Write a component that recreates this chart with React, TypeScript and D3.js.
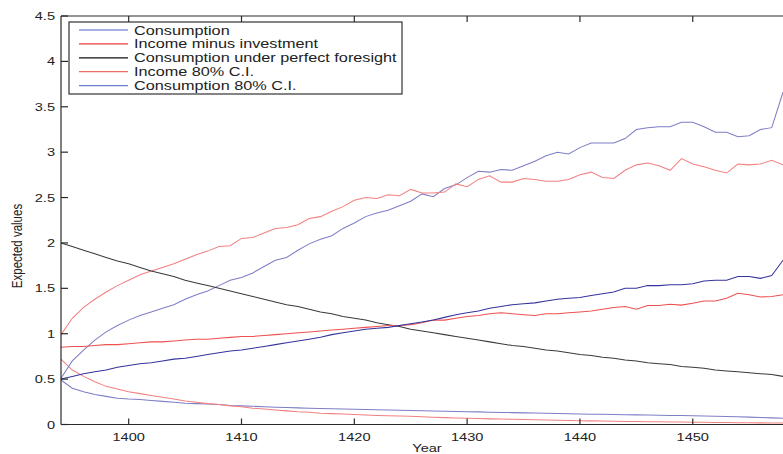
import * as d3 from 'd3'

const W = 783
const H = 454
const M = { top: 16, right: 0, bottom: 29.5, left: 61 }

const FONT = '"Liberation Sans", Arial, Helvetica, sans-serif'

// years on the x axis, one point per year
const years = d3.range(1394, 1459)

const xTicks = [1400, 1410, 1420, 1430, 1440, 1450]
const yTicks = [0, 0.5, 1, 1.5, 2, 2.5, 3, 3.5, 4, 4.5]

const consumption = [
  0.50, 0.53, 0.56, 0.58, 0.60, 0.63, 0.65, 0.67, 0.68, 0.70,
  0.72, 0.73, 0.75, 0.77, 0.79, 0.81, 0.82, 0.84, 0.86, 0.88,
  0.90, 0.92, 0.94, 0.96, 0.99, 1.01, 1.03, 1.05, 1.06, 1.07,
  1.09, 1.11, 1.13, 1.15, 1.18, 1.21, 1.23, 1.25, 1.28, 1.30,
  1.32, 1.33, 1.34, 1.36, 1.38, 1.39, 1.40, 1.42, 1.44, 1.46,
  1.50, 1.50, 1.53, 1.53, 1.54, 1.54, 1.55, 1.58, 1.59, 1.59,
  1.63, 1.63, 1.61, 1.64, 1.81
]

const incomeMinusInvestment = [
  0.85, 0.86, 0.86, 0.87, 0.88, 0.88, 0.89, 0.90, 0.91, 0.91,
  0.92, 0.93, 0.94, 0.94, 0.95, 0.96, 0.97, 0.97, 0.98, 0.99,
  1.00, 1.01, 1.02, 1.03, 1.04, 1.05, 1.06, 1.07, 1.08, 1.09,
  1.09, 1.10, 1.12, 1.15, 1.15, 1.17, 1.19, 1.20, 1.22, 1.23,
  1.22, 1.21, 1.20, 1.22, 1.22, 1.23, 1.24, 1.25, 1.27, 1.29,
  1.30, 1.27, 1.31, 1.31, 1.325, 1.315, 1.335, 1.36, 1.36, 1.39,
  1.445, 1.43, 1.405, 1.41, 1.43
]

const perfectForesight = [
  2.00, 1.96, 1.92, 1.88, 1.84, 1.80, 1.77, 1.73, 1.69, 1.66,
  1.63, 1.59, 1.56, 1.53, 1.50, 1.47, 1.44, 1.41, 1.38, 1.35,
  1.32, 1.30, 1.27, 1.24, 1.22, 1.19, 1.17, 1.15, 1.12, 1.10,
  1.08, 1.05, 1.03, 1.01, 0.99, 0.97, 0.95, 0.93, 0.91, 0.89,
  0.87, 0.86, 0.84, 0.82, 0.81, 0.79, 0.77, 0.76, 0.74, 0.73,
  0.71, 0.70, 0.68, 0.67, 0.66, 0.64, 0.63, 0.62, 0.60, 0.59,
  0.58, 0.57, 0.56, 0.55, 0.53
]

const incomeUpper = [
  0.99, 1.17, 1.29, 1.38, 1.46, 1.53, 1.59, 1.65, 1.69, 1.73,
  1.77, 1.82, 1.87, 1.91, 1.96, 1.97, 2.05, 2.06, 2.11, 2.16,
  2.17, 2.20, 2.27, 2.29, 2.35, 2.40, 2.47, 2.50, 2.49, 2.53,
  2.52, 2.59, 2.55, 2.55, 2.56, 2.65, 2.62, 2.70, 2.74, 2.67,
  2.67, 2.71, 2.70, 2.68, 2.68, 2.70, 2.75, 2.78, 2.72, 2.71,
  2.80, 2.86, 2.88, 2.85, 2.80, 2.93, 2.87, 2.84, 2.80, 2.77,
  2.87, 2.86, 2.87, 2.91, 2.86
]

const incomeLower = [
  0.72, 0.60, 0.53, 0.47, 0.42, 0.39, 0.36, 0.34, 0.32, 0.30,
  0.28, 0.26, 0.245, 0.23, 0.22, 0.205, 0.195, 0.18, 0.17, 0.16,
  0.15, 0.14, 0.135, 0.125, 0.12, 0.115, 0.11, 0.105, 0.10, 0.097,
  0.094, 0.09, 0.086, 0.08, 0.076, 0.072, 0.068, 0.065, 0.062, 0.06,
  0.057, 0.055, 0.052, 0.05, 0.047, 0.045, 0.042, 0.04, 0.038, 0.036,
  0.034, 0.033, 0.031, 0.03, 0.028, 0.027, 0.025, 0.024, 0.022, 0.021,
  0.02, 0.019, 0.018, 0.017, 0.016
]

const consumptionUpper = [
  0.51, 0.70, 0.82, 0.93, 1.02, 1.09, 1.15, 1.20, 1.24, 1.28,
  1.32, 1.38, 1.43, 1.47, 1.53, 1.59, 1.62, 1.67, 1.74, 1.81,
  1.84, 1.92, 1.99, 2.04, 2.08, 2.16, 2.22, 2.29, 2.33, 2.36,
  2.41, 2.46, 2.54, 2.51, 2.60, 2.64, 2.72, 2.79, 2.78, 2.81,
  2.80, 2.85, 2.90, 2.96, 3.00, 2.98, 3.05, 3.10, 3.10, 3.10,
  3.15, 3.25, 3.27, 3.28, 3.28, 3.33, 3.33, 3.28, 3.22, 3.22,
  3.17, 3.18, 3.25, 3.27, 3.66
]

const consumptionLower = [
  0.49, 0.40, 0.36, 0.33, 0.31, 0.29, 0.28, 0.275, 0.265, 0.255,
  0.245, 0.235, 0.23, 0.225, 0.22, 0.21, 0.205, 0.20, 0.195, 0.19,
  0.187, 0.183, 0.18, 0.176, 0.173, 0.17, 0.168, 0.165, 0.163, 0.16,
  0.157, 0.154, 0.152, 0.149, 0.146, 0.143, 0.141, 0.139, 0.136, 0.133,
  0.131, 0.128, 0.126, 0.123, 0.121, 0.118, 0.116, 0.114, 0.112, 0.11,
  0.108, 0.106, 0.104, 0.102, 0.10, 0.099, 0.097, 0.094, 0.091, 0.088,
  0.085, 0.081, 0.077, 0.073, 0.068
]

const COLORS = {
  cons: '#34349c',
  inc: '#ef5050',
  pf: '#3a3a3a',
  incCI: '#f38080',
  consCI: '#7e7ec6'
}

// drawing order: CIs under the means
const lines = [
  { values: consumptionLower, color: COLORS.consCI },
  { values: incomeLower, color: COLORS.incCI },
  { values: consumptionUpper, color: COLORS.consCI },
  { values: incomeUpper, color: COLORS.incCI },
  { values: perfectForesight, color: COLORS.pf },
  { values: incomeMinusInvestment, color: COLORS.inc },
  { values: consumption, color: COLORS.cons }
]

const legendItems = [
  { label: 'Consumption', color: '#4a63c8' },
  { label: 'Income minus investment', color: '#f03c3c' },
  { label: 'Consumption under perfect foresight', color: '#111111' },
  { label: 'Income 80% C.I.', color: '#f06a6a' },
  { label: 'Consumption 80% C.I.', color: '#6a80cc' }
]

// the source figure is stretched sideways, so text gets a horizontal scale too
const SX = 1.27

export default function App() {
  const x = d3.scaleLinear().domain([1394, 1458]).range([M.left, W - M.right])
  const y = d3.scaleLinear().domain([0, 4.5]).range([H - M.bottom, M.top])

  const line = d3.line<number>()
    .x((_, i) => x(years[i]))
    .y(d => y(d))

  const axisColor = '#2a2a2a'
  const bottom = y(0)

  return (
    <svg width={W} height={H} style={{ position: 'absolute', left: 0, top: 0, background: '#fff' }}>
      <rect x={0} y={0} width={W} height={H} fill="#fff" />

      {lines.map((l, i) => (
        <path key={i} d={line(l.values) ?? ''} fill="none" stroke={l.color} strokeWidth={1.05} />
      ))}

      {/* frame */}
      <line x1={M.left} x2={W + 2} y1={M.top} y2={M.top} stroke={axisColor} strokeWidth={1.2} />
      <line x1={M.left} x2={W + 2} y1={bottom} y2={bottom} stroke={axisColor} strokeWidth={1.2} />
      <line x1={M.left} x2={M.left} y1={M.top} y2={bottom} stroke={axisColor} strokeWidth={1.2} />

      {/* x ticks */}
      {xTicks.map(t => (
        <g key={t}>
          <line x1={x(t)} x2={x(t)} y1={bottom} y2={bottom - 6} stroke={axisColor} strokeWidth={1.2} />
          <line x1={x(t)} x2={x(t)} y1={M.top} y2={M.top + 6} stroke={axisColor} strokeWidth={1.2} />
          <text
            transform={`translate(${x(t)},${bottom + 16}) scale(${SX},1)`}
            textAnchor="middle"
            fontFamily={FONT}
            fontSize={11.5}
            fill="#222"
          >
            {t}
          </text>
        </g>
      ))}

      {/* y ticks */}
      {yTicks.map(t => (
        <g key={t}>
          <line x1={M.left} x2={M.left + 7} y1={y(t)} y2={y(t)} stroke={axisColor} strokeWidth={1.2} />
          <text
            transform={`translate(${M.left - 6},${y(t) + 4}) scale(${SX},1)`}
            textAnchor="end"
            fontFamily={FONT}
            fontSize={11.5}
            fill="#222"
          >
            {t}
          </text>
        </g>
      ))}

      <text
        transform={`translate(427,${H - 2}) scale(${SX},1)`}
        textAnchor="middle"
        fontFamily={FONT}
        fontSize={11.5}
        fill="#222"
      >
        Year
      </text>
      <text
        transform={`translate(22,246) rotate(-90) scale(1,${SX})`}
        textAnchor="middle"
        fontFamily={FONT}
        fontSize={11.5}
        fill="#222"
      >
        Expected values
      </text>

      {/* legend */}
      <g>
        <rect x={69} y={22} width={333} height={72} fill="#fff" stroke="#333" strokeWidth={1.2} />
        {legendItems.map((d, i) => {
          const cy = 30 + i * 13.9
          return (
            <g key={d.label}>
              <line x1={79} x2={128} y1={cy} y2={cy} stroke={d.color} strokeWidth={1.2} />
              <text
                transform={`translate(134,${cy + 4.5}) scale(1.3,1)`}
                fontFamily={FONT}
                fontSize={12.5}
                fill="#222"
              >
                {d.label}
              </text>
            </g>
          )
        })}
      </g>
    </svg>
  )
}
